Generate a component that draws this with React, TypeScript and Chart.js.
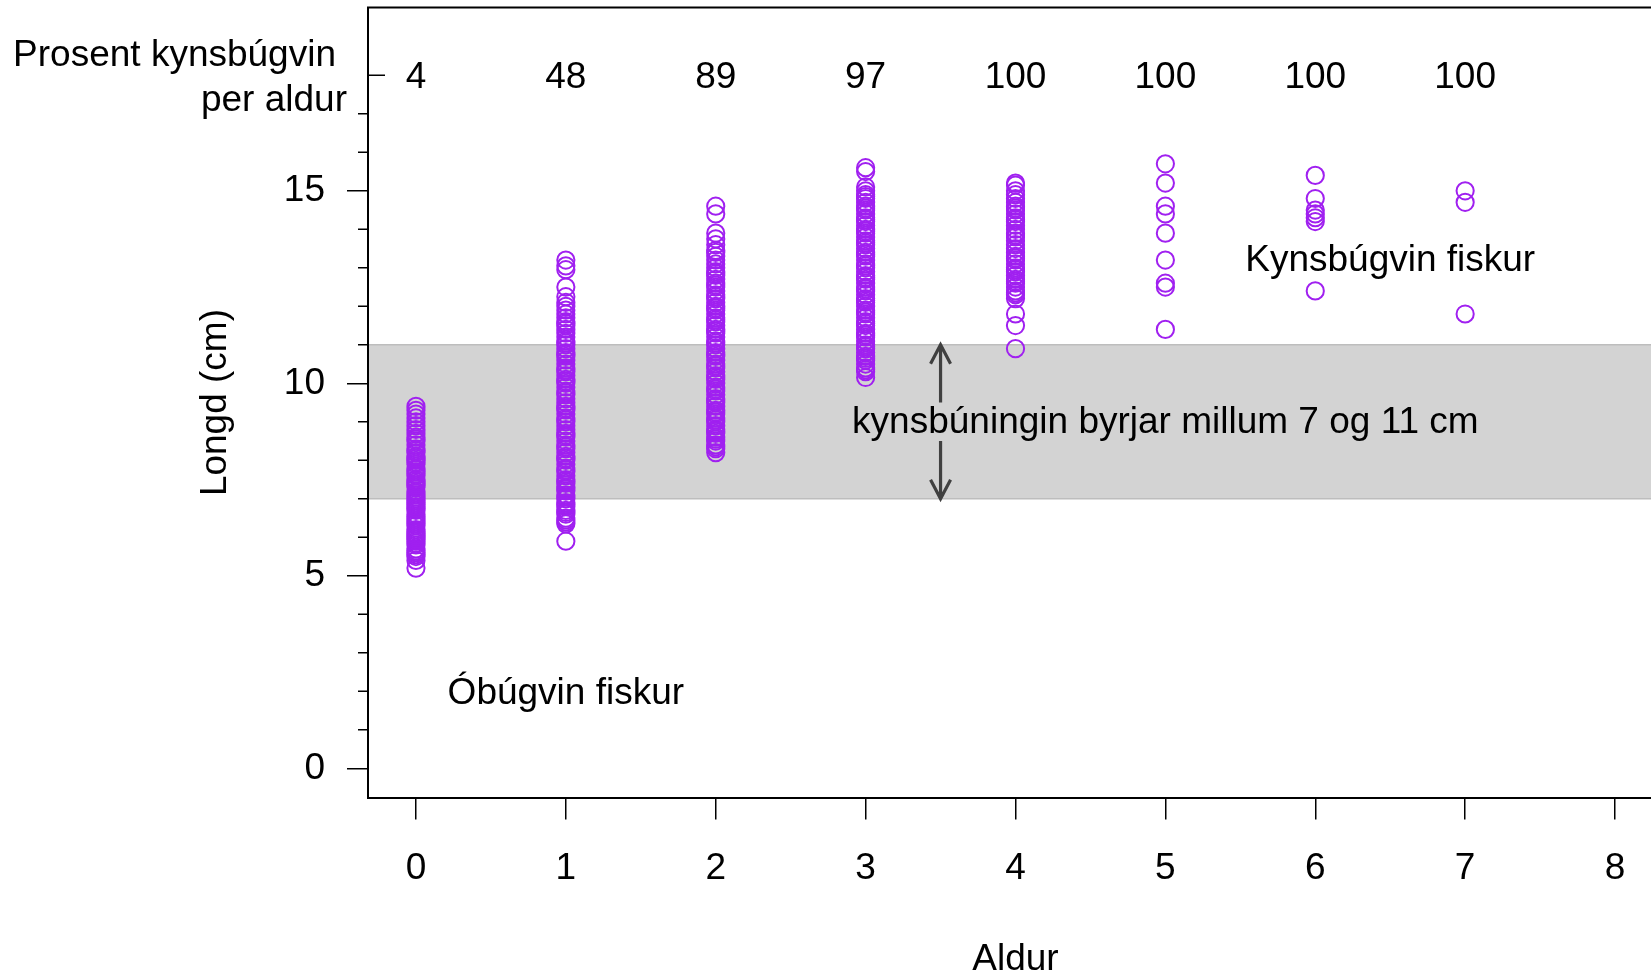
import React, { useEffect, useRef } from "react";
import { Chart, registerables } from "chart.js";

Chart.register(...registerables);

// ---------- data ----------
const ages = [0, 1, 2, 3, 4, 5, 6, 7];
const xTicks = [0, 1, 2, 3, 4, 5, 6, 7, 8];
const yTicks = [0, 5, 10, 15];
const yMinorTicks = [1, 2, 3, 4, 6, 7, 8, 9, 11, 12, 13, 14, 16, 17];
const percentMature = [4, 48, 89, 97, 100, 100, 100, 100];
const percentRowY = 18;

const lengthsAge0 = [
  5.2, 5.4, 5.5, 5.55, 5.6, 5.65, 5.7, 5.8, 5.85, 5.9, 5.95, 6.0, 6.05, 6.1, 6.15, 6.2,
  6.3, 6.35, 6.4, 6.45, 6.5, 6.55, 6.6, 6.7, 6.75, 6.8, 6.85, 6.9, 6.95, 7.0, 7.05, 7.1,
  7.15, 7.2, 7.3, 7.35, 7.4, 7.45, 7.5, 7.6, 7.65, 7.7, 7.75, 7.8, 7.9, 7.95, 8.0, 8.05,
  8.1, 8.2, 8.25, 8.3, 8.4, 8.5, 8.55, 8.6, 8.7, 8.8, 8.9, 9.0, 9.1, 9.2, 9.3, 9.4,
];
const lengthsAge1 = [
  5.9, 6.35, 6.4, 6.45, 6.5, 6.6, 6.65, 6.7, 6.8, 6.85, 6.9, 7.0, 7.05, 7.1, 7.2, 7.25,
  7.3, 7.4, 7.45, 7.5, 7.6, 7.7, 7.75, 7.8, 7.9, 8.0, 8.05, 8.1, 8.2, 8.3, 8.35, 8.4,
  8.5, 8.6, 8.65, 8.7, 8.8, 8.9, 9.0, 9.05, 9.1, 9.2, 9.3, 9.35, 9.4, 9.5, 9.6, 9.7,
  9.75, 9.8, 9.9, 10.0, 10.05, 10.1, 10.2, 10.3, 10.35, 10.4, 10.5, 10.6, 10.7, 10.75,
  10.8, 10.9, 11.0, 11.05, 11.1, 11.2, 11.3, 11.4, 11.5, 11.55, 11.6, 11.7, 11.8, 11.9,
  12.0, 12.1, 12.25, 12.5, 12.95, 13.05, 13.2,
];
const lengthsAge2 = [
  8.2, 8.3, 8.35, 8.4, 8.5, 8.55, 8.6, 8.7, 8.75, 8.8, 8.9, 9.0, 9.05, 9.1, 9.2, 9.25,
  9.3, 9.4, 9.5, 9.55, 9.6, 9.7, 9.8, 9.85, 9.9, 10.0, 10.1, 10.15, 10.2, 10.3, 10.4,
  10.45, 10.5, 10.6, 10.7, 10.75, 10.8, 10.9, 11.0, 11.05, 11.1, 11.2, 11.3, 11.35, 11.4,
  11.5, 11.6, 11.65, 11.7, 11.8, 11.9, 11.95, 12.0, 12.1, 12.2, 12.25, 12.3, 12.4, 12.5,
  12.55, 12.6, 12.7, 12.8, 12.85, 12.9, 13.0, 13.1, 13.2, 13.3, 13.4, 13.45, 13.6, 13.75,
  13.9, 14.4, 14.6,
];
const lengthsAge3 = [
  10.15, 10.3, 10.35, 10.4, 10.5, 10.6, 10.65, 10.7, 10.8, 10.9, 10.95, 11.0, 11.1, 11.2,
  11.25, 11.3, 11.4, 11.5, 11.55, 11.6, 11.7, 11.8, 11.85, 11.9, 12.0, 12.1, 12.15, 12.2,
  12.3, 12.4, 12.45, 12.5, 12.6, 12.7, 12.75, 12.8, 12.9, 13.0, 13.05, 13.1, 13.2, 13.3,
  13.35, 13.4, 13.5, 13.6, 13.65, 13.7, 13.8, 13.9, 13.95, 14.0, 14.1, 14.2, 14.25, 14.3,
  14.4, 14.5, 14.55, 14.6, 14.7, 14.8, 14.85, 14.9, 15.0, 15.1, 15.5, 15.6,
];
const lengthsAge4 = [
  10.9, 11.5, 11.8, 12.2, 12.3, 12.35, 12.4, 12.5, 12.6, 12.65, 12.7, 12.8, 12.9, 12.95,
  13.0, 13.1, 13.2, 13.25, 13.3, 13.4, 13.5, 13.6, 13.7, 13.8, 13.85, 13.9, 14.0, 14.1,
  14.2, 14.25, 14.3, 14.4, 14.5, 14.55, 14.6, 14.7, 14.8, 14.9, 15.0, 15.15, 15.2,
];
const lengthsAge5 = [11.4, 12.5, 12.6, 13.2, 13.9, 14.4, 14.6, 15.2, 15.7];
const lengthsAge6 = [12.4, 14.2, 14.3, 14.4, 14.5, 14.8, 15.4];
const lengthsAge7 = [11.8, 14.7, 15.0];

const lengthsByAge = [
  lengthsAge0, lengthsAge1, lengthsAge2, lengthsAge3,
  lengthsAge4, lengthsAge5, lengthsAge6, lengthsAge7,
];

// maturation band and annotations (data coordinates)
const bandRange = [7, 11];
const arrowX = 3.5;
const arrowUp = [9.5, 11];
const arrowDown = [8.5, 7];
const bandLabel = { x: 5, y: 9, text: "kynsbúningin byrjar millum 7 og 11 cm" };
const matureLabel = { x: 6.5, y: 13.25, text: "Kynsbúgvin fiskur" };
const immatureLabel = { x: 1, y: 2, text: "Óbúgvin fiskur" };
const percentTitle = ["Prosent kynsbúgvin", "per aldur"];
const xTitle = "Aldur";
const yTitle = "Longd (cm)";

// ---------- style ----------
const FONT = '"Liberation Sans", Arial, Helvetica, sans-serif';
const FS = 37;
const W = 1651;
const H = 975;
const PURPLE = "#A020F0";
const TY = 2.5; // vertical nudge for plugin-drawn text

const annotatePlugin = {
  id: "annotate",
  beforeDatasetsDraw(chart: any) {
    const { ctx, chartArea: a, scales } = chart;
    const y = scales.y;
    const top = y.getPixelForValue(bandRange[1]);
    const bot = y.getPixelForValue(bandRange[0]);
    ctx.save();
    ctx.fillStyle = "#d3d3d3";
    ctx.fillRect(a.left + 1, top, a.right - a.left - 1, bot - top);
    ctx.strokeStyle = "#bdbdbd";
    ctx.lineWidth = 1.5;
    ctx.beginPath();
    ctx.moveTo(a.left + 1, top);
    ctx.lineTo(a.right, top);
    ctx.moveTo(a.left + 1, bot);
    ctx.lineTo(a.right, bot);
    ctx.stroke();
    ctx.restore();
  },
  afterDatasetsDraw(chart: any) {
    const { ctx, scales } = chart;
    const { x, y } = scales;
    const drawArrow = (from: number, to: number) => {
      const px = x.getPixelForValue(arrowX);
      const y1 = y.getPixelForValue(from);
      const y2 = y.getPixelForValue(to);
      const dir = y2 < y1 ? -1 : 1;
      ctx.beginPath();
      ctx.moveTo(px, y1);
      ctx.lineTo(px, y2);
      ctx.moveTo(px - 10, y2 - dir * 19);
      ctx.lineTo(px, y2);
      ctx.lineTo(px + 10, y2 - dir * 19);
      ctx.stroke();
    };
    ctx.save();
    ctx.strokeStyle = "#404040";
    ctx.lineWidth = 3.2;
    ctx.lineCap = "butt";
    ctx.lineJoin = "miter";
    drawArrow(arrowUp[0], arrowUp[1]);
    drawArrow(arrowDown[0], arrowDown[1]);
    ctx.restore();
  },
  afterDraw(chart: any) {
    const { ctx, chartArea: a, scales } = chart;
    const { x, y } = scales;
    ctx.save();
    // top frame line
    ctx.strokeStyle = "#000";
    ctx.lineWidth = 2;
    ctx.beginPath();
    ctx.moveTo(a.left - 1, a.top);
    ctx.lineTo(a.right, a.top);
    ctx.stroke();
    // minor y ticks
    ctx.lineWidth = 1.5;
    ctx.beginPath();
    yMinorTicks.forEach((v) => {
      const py = y.getPixelForValue(v);
      ctx.moveTo(a.left - 10, py);
      ctx.lineTo(a.left, py);
    });
    // inward tick at percent row
    const pr = y.getPixelForValue(percentRowY);
    ctx.moveTo(a.left, pr);
    ctx.lineTo(a.left + 17, pr);
    ctx.stroke();

    ctx.fillStyle = "#000";
    ctx.font = `${FS}px ${FONT}`;
    ctx.textBaseline = "middle";
    // percent mature row
    ctx.textAlign = "center";
    ages.forEach((age, i) => {
      ctx.fillText(String(percentMature[i]), x.getPixelForValue(age), pr + TY);
    });
    // percent title in margin
    ctx.textAlign = "right";
    ctx.fillText(percentTitle[0], a.left - 32, 53 + TY);
    ctx.fillText(percentTitle[1], a.left - 21, 98 + TY);
    // annotations
    ctx.textAlign = "center";
    ctx.fillText(bandLabel.text, x.getPixelForValue(bandLabel.x), y.getPixelForValue(bandLabel.y) + 1);
    ctx.fillText(matureLabel.text, x.getPixelForValue(matureLabel.x), y.getPixelForValue(matureLabel.y) + TY);
    ctx.fillText(immatureLabel.text, x.getPixelForValue(immatureLabel.x), y.getPixelForValue(immatureLabel.y) + TY);
    // axis titles
    ctx.fillText(xTitle, x.getPixelForValue(4), 957 + TY);
    ctx.translate(216, (a.top + a.bottom) / 2);
    ctx.rotate(-Math.PI / 2);
    ctx.fillText(yTitle, 0, 0);
    ctx.restore();
  },
};

export default function App() {
  const canvasRef = useRef<HTMLCanvasElement | null>(null);

  useEffect(() => {
    const canvas = canvasRef.current;
    if (!canvas) return;
    const points: { x: number; y: number }[] = [];
    ages.forEach((age, i) => {
      lengthsByAge[i].forEach((len) => points.push({ x: age, y: len }));
    });

    const chart = new Chart(canvas, {
      type: "scatter",
      data: {
        datasets: [
          {
            label: "Longd",
            data: points,
            pointStyle: "circle",
            pointRadius: 8.6,
            pointHoverRadius: 8.6,
            pointBorderWidth: 2,
            borderColor: PURPLE,
            backgroundColor: "rgba(0,0,0,0)",
            showLine: false,
          },
        ],
      },
      options: {
        responsive: false,
        animation: false,
        events: [],
        layout: { autoPadding: false, padding: { top: 7.5, left: 0, right: 0, bottom: 0 } },
        plugins: {
          legend: { display: false },
          tooltip: { enabled: false },
          title: { display: false },
        },
        scales: {
          x: {
            type: "linear",
            min: -0.32,
            max: 8.24,
            afterBuildTicks: (s: any) => {
              s.ticks = xTicks.map((v) => ({ value: v }));
            },
            afterFit: (s: any) => {
              s.height = 177.4;
              s.paddingLeft = 0;
              s.paddingRight = 0;
            },
            grid: {
              drawOnChartArea: false,
              drawTicks: true,
              tickLength: 22,
              color: "#000",
              lineWidth: 1.5,
            },
            border: { display: true, color: "#000", width: 2 },
            ticks: {
              color: "#000",
              font: { family: FONT, size: FS },
              padding: 27,
              maxRotation: 0,
              autoSkip: false,
              callback: (v: any) => String(v),
            },
          },
          y: {
            type: "linear",
            min: -0.76,
            max: 19.76,
            afterBuildTicks: (s: any) => {
              s.ticks = yTicks.map((v) => ({ value: v }));
            },
            afterFit: (s: any) => {
              s.width = 368;
              s.paddingTop = 0;
              s.paddingBottom = 0;
            },
            grid: {
              drawOnChartArea: false,
              drawTicks: true,
              tickLength: 21,
              color: "#000",
              lineWidth: 1.5,
            },
            border: { display: true, color: "#000", width: 2 },
            ticks: {
              color: "#000",
              font: { family: FONT, size: FS },
              padding: 22,
              autoSkip: false,
              callback: (v: any) => String(v),
            },
          },
        },
      },
      plugins: [annotatePlugin],
    });
    return () => chart.destroy();
  }, []);

  return (
    <div style={{ position: "fixed", left: 0, top: 0, width: W, height: H, background: "#fff" }}>
      <canvas ref={canvasRef} width={W} height={H} style={{ display: "block", width: W, height: H }} />
    </div>
  );
}
